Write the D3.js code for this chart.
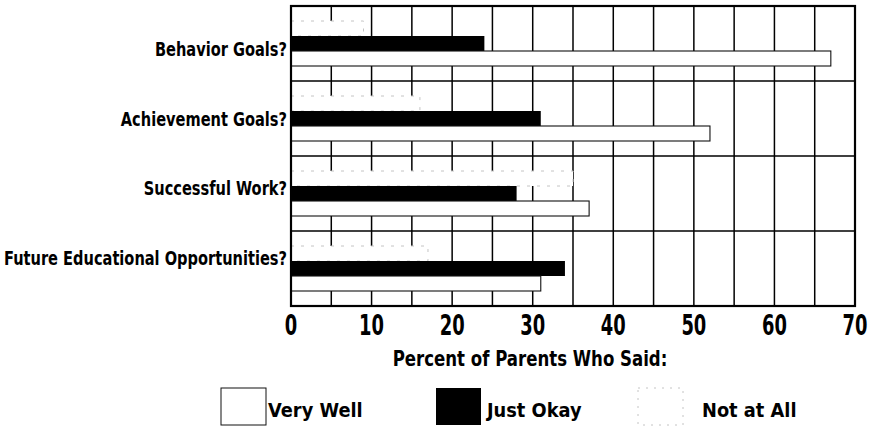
<!DOCTYPE html>
<html>
<head>
<meta charset="utf-8">
<script src="https://cdn.jsdelivr.net/npm/d3@7"></script>
<style>
  html, body { margin: 0; padding: 0; background: #fff; }
  svg { display: block; }
  text { font-family: "DejaVu Sans", "Liberation Sans", sans-serif; font-weight: bold; fill: #000; }
</style>
</head>
<body>
<svg id="chart" width="875" height="436"></svg>
<script>
const categories = ["Behavior Goals?", "Achievement Goals?", "Successful Work?", "Future Educational Opportunities?"];
const series = ["Not at All", "Just Okay", "Very Well"];
const veryWell = [67, 52, 37, 31];
const justOkay = [24, 31, 28, 34];
const notAtAll = [9, 16, 35, 17];
const xTicks = [0, 10, 20, 30, 40, 50, 60, 70];
const gridValues = [5, 10, 15, 20, 25, 30, 35, 40, 45, 50, 55, 60, 65];
const axisTitle = "Percent of Parents Who Said:";
const legendItems = ["Very Well", "Just Okay", "Not at All"];

const valuesBySeries = { "Very Well": veryWell, "Just Okay": justOkay, "Not at All": notAtAll };
const styles = {
  "Very Well": { fill: "#fff", stroke: "#111", width: 1.1, dash: null },
  "Just Okay": { fill: "#000", stroke: "#000", width: 0, dash: null },
  "Not at All": { fill: "#fff", stroke: "#c4c4c4", width: 1, dash: "3,7" }
};

const svg = d3.select("#chart");
const pLeft = 291, pRight = 855, pTop = 6, pBottom = 306;

const x = d3.scaleLinear().domain([0, 70]).range([pLeft, pRight]);
const y0 = d3.scaleBand().domain(categories).range([pTop, pBottom]).padding(0);
const y1 = d3.scaleBand().domain(series).range([0, y0.bandwidth()]).paddingInner(0).paddingOuter(1);
const yLabel = d3.scalePoint().domain(categories).range([49, 258]);
const legendBoxX = d3.scaleOrdinal().domain(legendItems).range([221, 436, 638]);
const legendTextX = d3.scaleOrdinal().domain(legendItems).range([268, 487, 702]);

// condensed text: a group translated to the anchor point and squeezed horizontally
function condensedText(parent, data, o) {
  const g = parent.selectAll(null).data(data).join("g")
    .attr("transform", (d, i) => `translate(${o.x(d, i)},${o.y(d, i)}) scale(${o.k},1)`);
  g.append("text")
    .attr("text-anchor", o.anchor)
    .attr("dominant-baseline", o.baseline || "auto")
    .style("font-size", o.size + "px")
    .text(o.text || (d => d));
  return g;
}

// grid
const grid = svg.append("g");
grid.selectAll("line.v").data(gridValues).join("line")
  .attr("x1", d => x(d)).attr("x2", d => x(d))
  .attr("y1", pTop).attr("y2", pBottom)
  .attr("stroke", "#000").attr("stroke-width", 1.5);
grid.selectAll("line.h").data(categories.slice(1)).join("line")
  .attr("x1", pLeft).attr("x2", pRight)
  .attr("y1", d => y0(d)).attr("y2", d => y0(d))
  .attr("stroke", "#000").attr("stroke-width", 1.5);

// bars
const rows = [];
categories.forEach((c, i) => series.forEach(s => rows.push({ cat: c, s, v: valuesBySeries[s][i] })));
svg.append("g").selectAll("rect").data(rows).join("rect")
  .attr("x", x(0))
  .attr("y", d => y0(d.cat) + y1(d.s))
  .attr("width", d => x(d.v) - x(0))
  .attr("height", y1.bandwidth())
  .attr("fill", d => styles[d.s].fill)
  .attr("stroke", d => styles[d.s].width ? styles[d.s].stroke : "none")
  .attr("stroke-width", d => styles[d.s].width)
  .attr("stroke-dasharray", d => styles[d.s].dash);

// frame
svg.append("rect").attr("x", pLeft).attr("y", pTop)
  .attr("width", pRight - pLeft).attr("height", pBottom - pTop)
  .attr("fill", "none").attr("stroke", "#000").attr("stroke-width", 2.2);

// x axis tick labels
condensedText(svg.append("g"), xTicks, {
  x: d => x(d), y: () => pBottom + 29, k: 0.64, anchor: "middle", size: 28
});

// category labels
condensedText(svg.append("g"), categories, {
  x: () => 287, y: d => yLabel(d), k: 0.73, anchor: "end", size: 20, baseline: "central"
});

// axis title
condensedText(svg.append("g"), [axisTitle], {
  x: () => 530, y: () => 366, k: 0.79, anchor: "middle", size: 21
});

// legend
const lgRoot = svg.append("g");
lgRoot.selectAll("rect").data(legendItems).join("rect")
  .attr("x", d => legendBoxX(d)).attr("y", 388)
  .attr("width", 45).attr("height", 37)
  .attr("fill", d => styles[d].fill)
  .attr("stroke", d => d === "Just Okay" ? "none" : styles[d].stroke)
  .attr("stroke-width", 1)
  .attr("stroke-dasharray", d => d === "Not at All" ? "2,6" : null);
condensedText(lgRoot.append("g"), legendItems, {
  x: d => legendTextX(d), y: () => 417, k: 0.89, anchor: "start", size: 20
});
</script>
</body>
</html>
